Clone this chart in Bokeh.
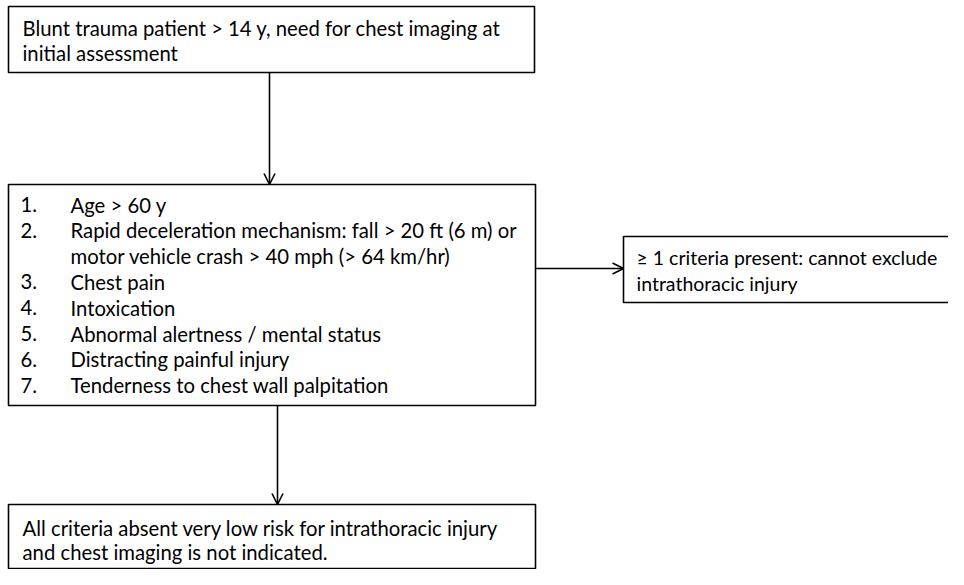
from bokeh.plotting import figure
from bokeh.models import Range1d, Arrow, OpenHead
from bokeh.core.properties import value
from bokeh.embed import file_html
from bokeh.resources import INLINE

# ---- content ----
box1_lines = ["Blunt trauma patient > 14 y, need for chest imaging at", "initial assessment"]
criteria_nums = ["1.", "2.", "", "3.", "4.", "5.", "6.", "7."]
criteria_text = [
    "Age > 60 y",
    "Rapid deceleration mechanism: fall > 20 ft (6 m) or",
    "motor vehicle crash > 40 mph (> 64 km/hr)",
    "Chest pain",
    "Intoxication",
    "Abnormal alertness / mental status",
    "Distracting painful injury",
    "Tenderness to chest wall palpitation",
]
box3_lines = ["\u2265 1 criteria present: cannot exclude", "intrathoracic injury"]
box4_lines = ["All criteria absent very low risk for intrathoracic injury", "and chest imaging is not indicated."]

# ---- layout (pixel-like coordinates, y downward) ----
W, H = 948, 569
p = figure(width=W, height=H, output_backend="svg", toolbar_location=None,
           x_range=Range1d(0, W), y_range=Range1d(H, 0), min_border=0)
p.axis.visible = False
p.grid.visible = False
p.outline_line_color = None
p.background_fill_color = "white"
p.border_fill_color = "white"

FONT = value("Lato")
LW = 1.6

def box(l, t, r, b):
    p.quad(left=[l], right=[r], top=[t], bottom=[b], fill_color=None,
           line_color="black", line_width=LW)

def lines(x, y0, dy, txts, fs="20.3px"):
    ys = [y0 + i * dy for i in range(len(txts))]
    p.text(x=[x] * len(txts), y=ys, text=txts, text_font=FONT, text_font_size=fs,
           text_baseline="middle", text_align="left", text_color="black")

# Box 1
box(8, 6, 534, 72)
lines(22, 27, 25, box1_lines)

# Box 2
box(8, 184, 535, 405)
lines(20, 204, 25.8, criteria_nums)
lines(70, 204, 25.8, criteria_text)

# Box 3
box(623, 236, 1000, 302)
lines(636, 257, 26, box3_lines, fs="19.5px")

# Box 4
box(8, 504, 535, 568)
lines(22, 527, 24, box4_lines)

# Arrows
head = dict(size=11, line_color="black", line_width=LW)
p.add_layout(Arrow(x_start=269, y_start=72, x_end=269, y_end=184,
                   end=OpenHead(**head), line_color="black", line_width=LW))
p.add_layout(Arrow(x_start=535, y_start=268, x_end=623, y_end=268,
                   end=OpenHead(**head), line_color="black", line_width=LW))
p.add_layout(Arrow(x_start=277, y_start=405, x_end=277, y_end=504,
                   end=OpenHead(**head), line_color="black", line_width=LW))

open("out.html", "w").write(file_html(p, INLINE))
